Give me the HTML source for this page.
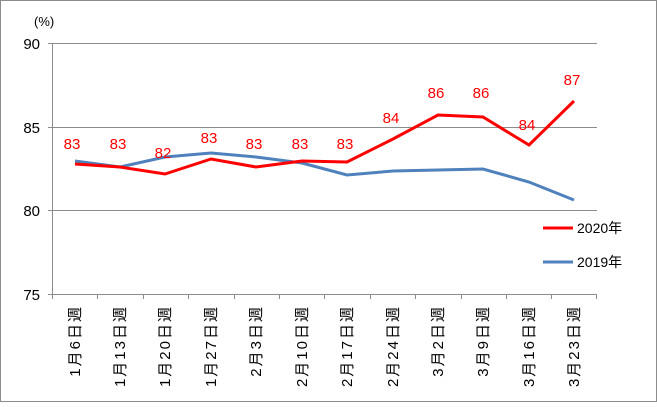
<!DOCTYPE html>
<html><head><meta charset="utf-8"><style>body{margin:0;background:#fff}</style></head><body>
<svg width="657" height="402" xmlns="http://www.w3.org/2000/svg" font-family="Liberation Sans, Noto Sans CJK JP, sans-serif">
<rect x="0.5" y="0.5" width="656" height="401" fill="#fff" stroke="#8c8c8c"/>
<g stroke="#8c8c8c" stroke-width="1">
<line x1="52" y1="43.5" x2="597" y2="43.5"/>
<line x1="52" y1="127.5" x2="597" y2="127.5"/>
<line x1="52" y1="210.5" x2="597" y2="210.5"/>
<line x1="52" y1="294.5" x2="597" y2="294.5"/>
<line x1="52.5" y1="43" x2="52.5" y2="299"/>
<line x1="97.5" y1="294" x2="97.5" y2="299"/><line x1="143.5" y1="294" x2="143.5" y2="299"/><line x1="188.5" y1="294" x2="188.5" y2="299"/><line x1="234.5" y1="294" x2="234.5" y2="299"/><line x1="279.5" y1="294" x2="279.5" y2="299"/><line x1="324.5" y1="294" x2="324.5" y2="299"/><line x1="370.5" y1="294" x2="370.5" y2="299"/><line x1="415.5" y1="294" x2="415.5" y2="299"/><line x1="461.5" y1="294" x2="461.5" y2="299"/><line x1="506.5" y1="294" x2="506.5" y2="299"/><line x1="551.5" y1="294" x2="551.5" y2="299"/><line x1="596.5" y1="294" x2="596.5" y2="299"/>
<line x1="48" y1="43.5" x2="52" y2="43.5"/><line x1="48" y1="127.5" x2="52" y2="127.5"/><line x1="48" y1="210.5" x2="52" y2="210.5"/><line x1="48" y1="294.5" x2="52" y2="294.5"/>
</g>
<g font-size="15" text-anchor="end" fill="#000">
<text x="40" y="49">90</text><text x="40" y="133">85</text><text x="40" y="216">80</text><text x="40" y="300">75</text>
</g>
<text x="34" y="26" font-size="13">(%)</text>
<polyline fill="none" stroke="#4f81bd" stroke-width="3" points="75,161 120,167 165,157 211,153 256,157 302,163 347,175 393,171 438,170 483,169 529,182 574,200"/>
<polyline fill="none" stroke="#ff0000" stroke-width="3" points="75,164 120,167 165,174 211,159 256,167 302,161 347,162 393,139 438,115 483,117 529,145 574,101"/>
<g font-size="15" fill="#ff0000" text-anchor="middle">
<text x="72" y="149">83</text><text x="118" y="149">83</text><text x="163" y="158">82</text><text x="209" y="143">83</text><text x="254" y="149">83</text><text x="300" y="149">83</text><text x="345" y="149">83</text><text x="391" y="123">84</text><text x="436" y="98">86</text><text x="481" y="98">86</text><text x="527" y="130">84</text><text x="572" y="85">87</text>
</g>
<line x1="543" y1="228" x2="573" y2="228" stroke="#ff0000" stroke-width="3"/>
<text x="577" y="233" font-size="14">2020年</text>
<line x1="543" y1="262" x2="573" y2="262" stroke="#4f81bd" stroke-width="3"/>
<text x="577" y="267" font-size="14">2019年</text>
<g font-size="15" text-anchor="end" fill="#000" letter-spacing="2">
<text transform="translate(80,305) rotate(-90)">1月6日週</text>
<text transform="translate(125,305) rotate(-90)">1月13日週</text>
<text transform="translate(170,305) rotate(-90)">1月20日週</text>
<text transform="translate(216,305) rotate(-90)">1月27日週</text>
<text transform="translate(261,305) rotate(-90)">2月3日週</text>
<text transform="translate(307,305) rotate(-90)">2月10日週</text>
<text transform="translate(352,305) rotate(-90)">2月17日週</text>
<text transform="translate(398,305) rotate(-90)">2月24日週</text>
<text transform="translate(443,305) rotate(-90)">3月2日週</text>
<text transform="translate(488,305) rotate(-90)">3月9日週</text>
<text transform="translate(534,305) rotate(-90)">3月16日週</text>
<text transform="translate(579,305) rotate(-90)">3月23日週</text>
</g>
</svg>
</body></html>
